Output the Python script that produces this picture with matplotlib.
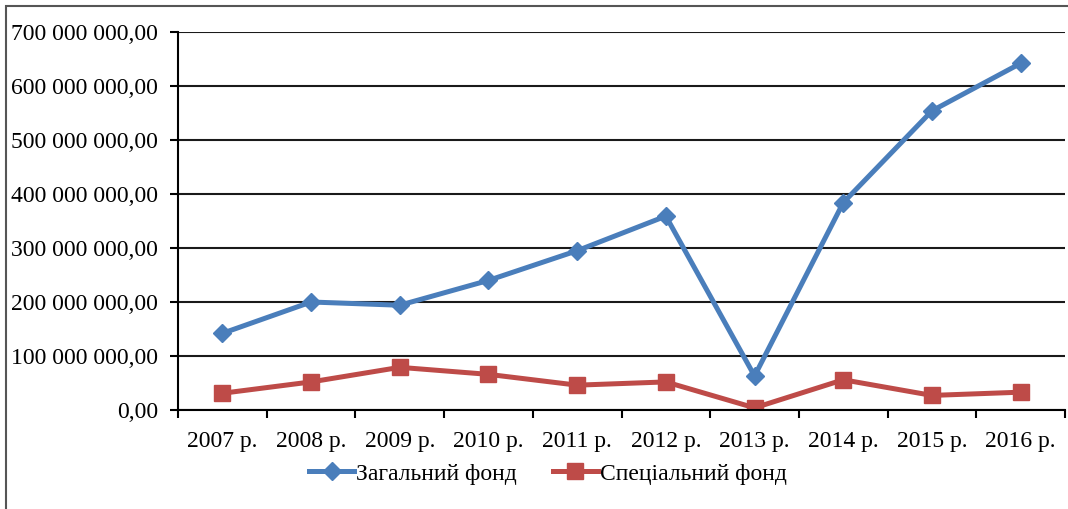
import matplotlib
matplotlib.use("Agg")
import matplotlib.pyplot as plt
from matplotlib.patches import Rectangle
from matplotlib.ticker import FuncFormatter, FixedLocator

plt.rcParams['font.family'] = ['Liberation Serif', 'DejaVu Serif']

years = ["2007 р.", "2008 р.", "2009 р.", "2010 р.", "2011 р.",
         "2012 р.", "2013 р.", "2014 р.", "2015 р.", "2016 р."]
general_fund = [142e6, 200e6, 194e6, 240e6, 295e6, 359e6, 63e6, 384e6, 554e6, 642e6]
special_fund = [31e6, 52e6, 79e6, 66e6, 46e6, 52e6, 4e6, 56e6, 27e6, 33e6]
series_names = ["Загальний фонд", "Спеціальний фонд"]
y_ticks = [0, 100e6, 200e6, 300e6, 400e6, 500e6, 600e6, 700e6]

W, H = 1068, 509
FS = 17
fig = plt.figure(figsize=(W / 100, H / 100), dpi=100)
ax = fig.add_axes([178 / W, 1 - 410 / H, (1065 - 178) / W, (410 - 32) / H])

x = list(range(len(years)))
ax.plot(x, general_fund, color="#4A7EBB", lw=3.6, marker="D", ms=9.5,
        label=series_names[0], solid_joinstyle="miter")
ax.plot(x, special_fund, color="#BE4B48", lw=3.6, marker="s", ms=12,
        label=series_names[1])

ax.set_xlim(-0.5, len(years) - 0.5)
ax.set_ylim(0, 700e6)
ax.set_yticks(y_ticks)


def fmt(v, pos):
    s = f"{int(round(v)):,}".replace(",", " ")
    return s + ",00"


ax.yaxis.set_major_formatter(FuncFormatter(fmt))
ax.set_xticks(x)
ax.set_xticklabels(years)
ax.xaxis.set_minor_locator(FixedLocator([i - 0.5 for i in range(len(years) + 1)]))
ax.tick_params(axis="x", which="major", length=0, pad=15, labelsize=FS)
ax.tick_params(axis="x", which="minor", length=6, width=1.5, direction="out")
ax.tick_params(axis="y", length=6, width=1.5, direction="out", pad=8.5, labelsize=FS)

ax.grid(axis="y", color="#1a1a1a", lw=1.5)
ax.set_axisbelow(True)
for s in ["top", "right"]:
    ax.spines[s].set_visible(False)
for s in ["left", "bottom"]:
    ax.spines[s].set_linewidth(1.5)
    ax.spines[s].set_color("black")

leg = fig.legend(loc="center", bbox_to_anchor=(548 / W, 1 - 474 / H), ncol=2,
                 frameon=False, fontsize=FS, handlelength=1.9,
                 columnspacing=1.5, handletextpad=0.1)

fig.patches.append(Rectangle((6 / W, -0.1), 1.2, 1 - 6 / H + 0.1,
                             transform=fig.transFigure, fill=False,
                             edgecolor="#555555", lw=1.5))

fig.savefig("out.png", dpi=100)
